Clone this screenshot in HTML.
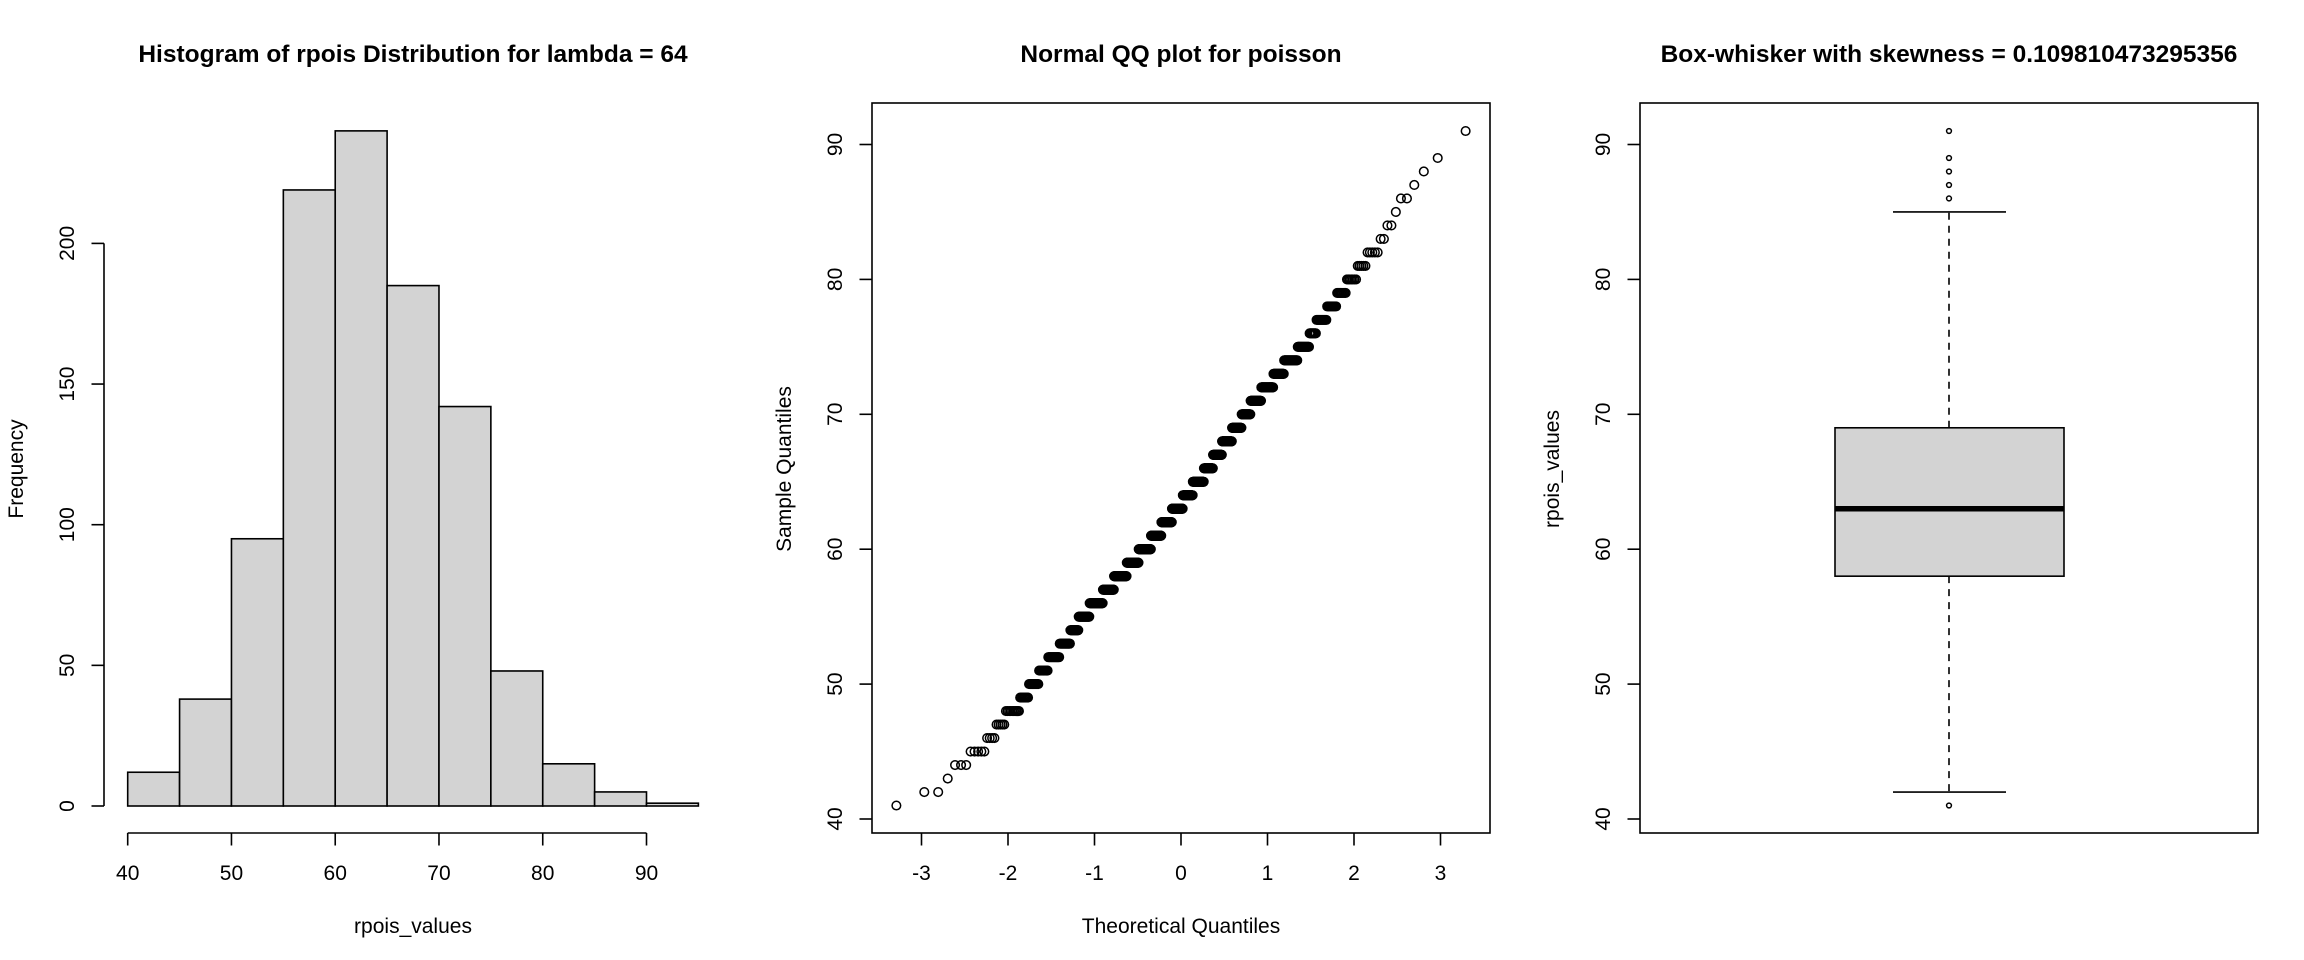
<!DOCTYPE html>
<html><head><meta charset="utf-8"><style>
html,body{margin:0;padding:0;background:#fff;}
svg{display:block;font-family:"Liberation Sans",Arial,sans-serif;}
</style></head><body>
<svg id="fig" width="2304" height="960" viewBox="0 0 2304 960" xmlns="http://www.w3.org/2000/svg">
<rect width="2304" height="960" fill="#fff"/>
<g id="p1"></g>
<g id="p2"></g>
<g id="p3"></g>
</svg>
<script>
// histogram bins
const binEdges = [40,45,50,55,60,65,70,75,80,85,90,95];
const binCounts = [12,38,95,219,240,185,142,48,15,5,1];
const histXTicks = [40,50,60,70,80,90];
const histYTicks = [0,50,100,150,200];
// sample: value -> count
const sampleValues = [41,42,43,44,45,46,47,48,49,50,51,52,53,54,55,56,57,58,59,60,61,62,63,64,65,66,67,68,69,70,71,72,73,74,75,76,77,78,79,80,81,82,83,84,85,86,87,88,89,90,91];
const sampleCounts = [1,2,1,3,5,4,5,10,8,11,12,18,20,18,27,38,36,46,47,52,46,48,50,46,50,40,38,40,36,31,34,34,26,28,20,10,13,10,8,7,5,5,2,2,1,2,1,1,1,0,1];
const qqXTicks = [-3,-2,-1,0,1,2,3];
const valYTicks = [40,50,60,70,80,90];
const skewText = "0.109810473295356";

const NS="http://www.w3.org/2000/svg";
function mk(parent,tag,attrs,text){const e=document.createElementNS(NS,tag);for(const k in attrs)e.setAttribute(k,attrs[k]);if(text!==undefined)e.textContent=text;parent.appendChild(e);return e;}
const SW=1.6, FS=21, TFS=24.5;
const AXY=833, TLY=880, XLY=933;
function title(p,cx,t){const e=mk(p,'text',{x:cx,y:62,'text-anchor':'middle','font-size':TFS,'font-weight':'bold'},t);

}
function yTicksDraw(p,x,ticks,sy,name){
  ticks.forEach(v=>{const y=sy(v);
    const l=mk(p,'line',{x1:x,x2:x-12.5,y1:y,y2:y,stroke:'#000','stroke-width':SW});
    
    
    const t=mk(p,'text',{x:0,y:0,transform:`translate(${x-30},${y}) rotate(-90)`,'text-anchor':'middle','font-size':FS},String(v));
    
    
  });
}
function yLabel(p,x,y,t){const e=mk(p,'text',{x:0,y:0,transform:`translate(${x},${y}) rotate(-90)`,'text-anchor':'middle','font-size':FS},t);

}

// ---------- Panel 1: histogram
(function(){
const p=document.getElementById('p1');
const sx=v=>127.7+(v-40)*10.376;
const sy=v=>806-v*2.813;
title(p,413,'Histogram of rpois Distribution for lambda = 64');
binCounts.forEach((c,i)=>{
  const x0=sx(binEdges[i]),x1=sx(binEdges[i+1]);
  const r=mk(p,'rect',{x:x0,y:sy(c),width:x1-x0,height:sy(0)-sy(c),fill:'#d3d3d3',stroke:'#000','stroke-width':SW});
  
  
});
const ya=mk(p,'line',{x1:104,x2:104,y1:sy(0),y2:sy(200),stroke:'#000','stroke-width':SW});


yTicksDraw(p,104,histYTicks,sy,'y-tick-label');
const xa=mk(p,'line',{x1:sx(40),x2:sx(90),y1:AXY,y2:AXY,stroke:'#000','stroke-width':SW});


histXTicks.forEach(v=>{
  const l=mk(p,'line',{x1:sx(v),x2:sx(v),y1:AXY,y2:AXY+12.5,stroke:'#000','stroke-width':SW});
  
  
  const t=mk(p,'text',{x:sx(v),y:TLY,'text-anchor':'middle','font-size':FS},String(v));
  
  
});
const xl=mk(p,'text',{x:413,y:XLY,'text-anchor':'middle','font-size':FS},'rpois_values');


yLabel(p,23,469,'Frequency');
})();

// sorted sample
const sorted=[];
sampleValues.forEach((v,i)=>{for(let k=0;k<sampleCounts[i];k++)sorted.push(v);});
const n=sorted.length;
function qnorm(p){
 const a=[-3.969683028665376e+01,2.209460984245205e+02,-2.759285104469687e+02,1.383577518672690e+02,-3.066479806614716e+01,2.506628277459239e+00];
 const b=[-5.447609879822406e+01,1.615858368580409e+02,-1.556989798598866e+02,6.680131188771972e+01,-1.328068155288572e+01];
 const c=[-7.784894002430293e-03,-3.223964580411365e-01,-2.400758277161838e+00,-2.549732539343734e+00,4.374664141464968e+00,2.938163982698783e+00];
 const d=[7.784695709041462e-03,3.224671290700398e-01,2.445134137142996e+00,3.754408661907416e+00];
 const pl=0.02425;let q,r;
 if(p<pl){q=Math.sqrt(-2*Math.log(p));return (((((c[0]*q+c[1])*q+c[2])*q+c[3])*q+c[4])*q+c[5])/((((d[0]*q+d[1])*q+d[2])*q+d[3])*q+1);}
 if(p>1-pl){q=Math.sqrt(-2*Math.log(1-p));return -(((((c[0]*q+c[1])*q+c[2])*q+c[3])*q+c[4])*q+c[5])/((((d[0]*q+d[1])*q+d[2])*q+d[3])*q+1);}
 q=p-0.5;r=q*q;return (((((a[0]*r+a[1])*r+a[2])*r+a[3])*r+a[4])*r+a[5])*q/(((((b[0]*r+b[1])*r+b[2])*r+b[3])*r+b[4])*r+1);
}
const syV=v=>819-(v-40)*13.49;
const FT=103, FH=AXY-103;

// ---------- Panel 2: QQ
(function(){
const p=document.getElementById('p2');
const sx=v=>1181+v*86.5;
title(p,1181,'Normal QQ plot for poisson');
const fr=mk(p,'rect',{x:872,y:FT,width:618,height:FH,fill:'none',stroke:'#000','stroke-width':SW});


sorted.forEach((v,i)=>{
  const q=qnorm((i+0.5)/n);
  const c=mk(p,'circle',{cx:sx(q),cy:syV(v),r:4.3,fill:'none',stroke:'#000','stroke-width':1.5});
  
  
});
yTicksDraw(p,872,valYTicks,syV,'y-tick-label');
qqXTicks.forEach(v=>{
  const l=mk(p,'line',{x1:sx(v),x2:sx(v),y1:AXY,y2:AXY+12.5,stroke:'#000','stroke-width':SW});
  
  
  const t=mk(p,'text',{x:sx(v),y:TLY,'text-anchor':'middle','font-size':FS},String(v));
  
  
});
const xl=mk(p,'text',{x:1181,y:XLY,'text-anchor':'middle','font-size':FS},'Theoretical Quantiles');


yLabel(p,791,469,'Sample Quantiles');
})();

// ---------- Panel 3: boxplot
(function(){
const p=document.getElementById('p3');
title(p,1949,'Box-whisker with skewness = '+skewText);
const fr=mk(p,'rect',{x:1640,y:FT,width:618,height:FH,fill:'none',stroke:'#000','stroke-width':SW});


const nh=Math.floor((n+3)/2)/2;
const at=x=>(sorted[Math.floor(x)-1]+sorted[Math.ceil(x)-1])/2;
const q1=at(nh),med=at((n+1)/2),q3=at(n+1-nh);
const iqr=q3-q1;
const hiW=Math.max(...sorted.filter(v=>v<=q3+1.5*iqr));
const loW=Math.min(...sorted.filter(v=>v>=q1-1.5*iqr));
const cx=1949,bx0=1835,bx1=2064,cw0=1893,cw1=2006;
const w1=mk(p,'line',{x1:cx,x2:cx,y1:syV(q3),y2:syV(hiW),stroke:'#000','stroke-width':SW,'stroke-dasharray':'7,6'});


const w2=mk(p,'line',{x1:cx,x2:cx,y1:syV(q1),y2:syV(loW),stroke:'#000','stroke-width':SW,'stroke-dasharray':'7,6'});


const c1=mk(p,'line',{x1:cw0,x2:cw1,y1:syV(hiW),y2:syV(hiW),stroke:'#000','stroke-width':SW});


const c2=mk(p,'line',{x1:cw0,x2:cw1,y1:syV(loW),y2:syV(loW),stroke:'#000','stroke-width':SW});


const b=mk(p,'rect',{x:bx0,y:syV(q3),width:bx1-bx0,height:syV(q1)-syV(q3),fill:'#d3d3d3',stroke:'#000','stroke-width':SW});


const m=mk(p,'line',{x1:bx0,x2:bx1,y1:syV(med),y2:syV(med),stroke:'#000','stroke-width':5.5});


const outs=[...new Set(sorted.filter(v=>v>hiW||v<loW))];
outs.forEach(v=>{
  const o=mk(p,'circle',{cx:cx,cy:syV(v),r:2.4,fill:'none',stroke:'#000','stroke-width':1.5});
  
  
});
yTicksDraw(p,1640,valYTicks,syV,'y-tick-label');
yLabel(p,1559,469,'rpois_values');
})();
</script>
</body></html>
